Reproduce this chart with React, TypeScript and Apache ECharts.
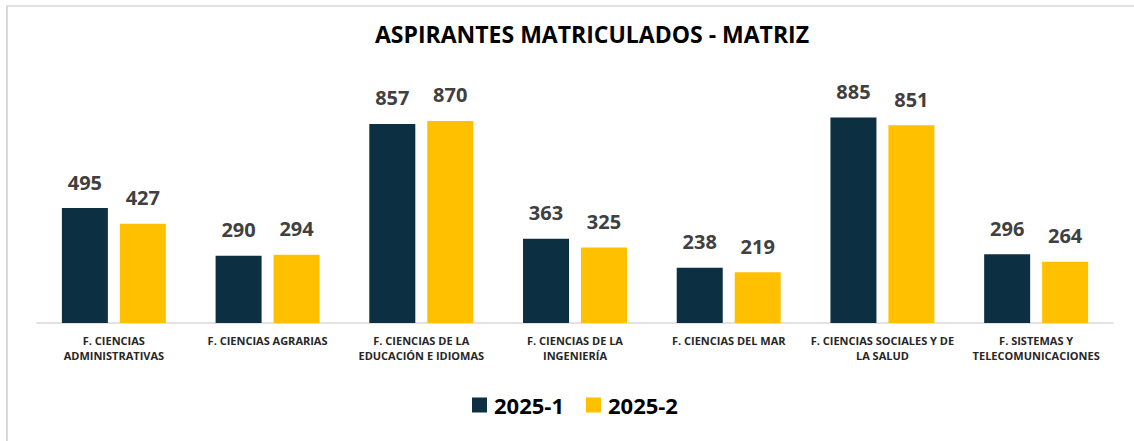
import React, { useEffect, useRef } from "react";
import * as echarts from "echarts";

const TITLE = "ASPIRANTES MATRICULADOS - MATRIZ";
const categories = [
  "F. CIENCIAS\nADMINISTRATIVAS",
  "F. CIENCIAS AGRARIAS",
  "F. CIENCIAS DE LA\nEDUCACIÓN E IDIOMAS",
  "F. CIENCIAS DE LA\nINGENIERÍA",
  "F. CIENCIAS DEL MAR",
  "F. CIENCIAS SOCIALES Y DE\nLA SALUD",
  "F. SISTEMAS Y\nTELECOMUNICACIONES",
];
const seriesNames = ["2025-1", "2025-2"];
const values2025_1 = [495, 290, 857, 363, 238, 885, 296];
const values2025_2 = [427, 294, 870, 325, 219, 851, 264];

const FONT = "'Open Sans', 'Noto Sans', sans-serif";
const DARK = "#0C2F41";
const YELLOW = "#FFC000";

export default function App() {
  const ref = useRef<HTMLDivElement>(null);
  useEffect(() => {
    if (!ref.current) return;
    const chart = echarts.init(ref.current, null, { renderer: "svg" });
    const label = {
      show: true,
      position: "top",
      distance: 16,
      color: "#404040",
      fontFamily: FONT,
      fontWeight: "bold",
      fontSize: 20,
    };
    chart.setOption({
      animation: false,
      backgroundColor: "#ffffff",
      textStyle: { fontFamily: FONT },
      title: {
        text: TITLE,
        left: 592,
        textAlign: "center",
        top: 22,
        padding: 0,
        textStyle: { fontFamily: FONT, fontWeight: "bold", fontSize: 23, color: "#000000" },
      },
      legend: {
        data: seriesNames,
        left: 472,
        top: 394,
        padding: 0,
        itemWidth: 15,
        itemHeight: 15,
        itemGap: 22,
        icon: "rect",
        textStyle: { fontFamily: FONT, fontWeight: "bold", fontSize: 22, color: "#000000", padding: [0, 0, 0, 2] },
      },
      grid: { left: 37, right: 21, top: 90.7, bottom: 118, containLabel: false },
      xAxis: {
        type: "category",
        data: categories,
        axisLine: { show: true, lineStyle: { color: "#D9D9D9", width: 1.5 } },
        axisTick: { show: false },
        axisLabel: {
          interval: 0,
          margin: 10,
          color: "#262626",
          fontFamily: FONT,
          fontWeight: "bold",
          fontSize: 11,
          lineHeight: 15,
          align: "center",
        },
      },
      yAxis: {
        type: "value",
        min: 0,
        max: 1000,
        show: false,
        splitLine: { show: false },
      },
      series: [
        {
          name: seriesNames[0],
          type: "bar",
          data: values2025_1,
          itemStyle: { color: DARK },
          barWidth: 46,
          barGap: "26%",
          label,
        },
        {
          name: seriesNames[1],
          type: "bar",
          data: values2025_2,
          itemStyle: { color: YELLOW },
          barWidth: 46,
          barGap: "26%",
          label,
        },
      ],
      graphic: [
        { type: "line", shape: { x1: 7, y1: 6, x2: 7, y2: 441 }, style: { stroke: "#D9D9D9", lineWidth: 2 }, silent: true },
        { type: "line", shape: { x1: 6, y1: 6, x2: 1134, y2: 6 }, style: { stroke: "#D9D9D9", lineWidth: 1.5 }, silent: true },
      ],
    });
    return () => chart.dispose();
  }, []);
  return (
    <div style={{ position: "fixed", left: 0, top: 0, width: 1134, height: 441, background: "#fff" }}>
      <div ref={ref} style={{ width: 1134, height: 441 }} />
    </div>
  );
}
